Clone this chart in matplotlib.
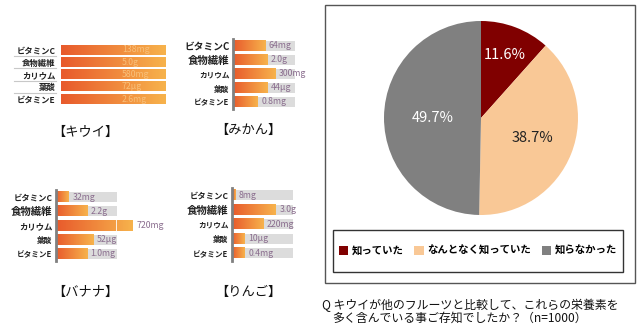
import numpy as np
import matplotlib
matplotlib.use("Agg")
import matplotlib.pyplot as plt
from matplotlib.colors import LinearSegmentedColormap
from matplotlib.patches import Rectangle

plt.rcParams['font.family'] = ['Noto Sans CJK JP', 'DejaVu Sans']

# ---- data ----
nutrients = ['ビタミンC', '食物繊維', 'カリウム', '葉酸', 'ビタミンE']

kiwi_text = ['138mg', '5.0g', '580mg', '72μg', '2.6mg']
kiwi_len = [1.0, 1.0, 1.0, 1.0, 1.0]

mikan_text = ['64mg', '2.0g', '300mg', '44μg', '0.8mg']
mikan_len = [0.52, 0.55, 0.68, 0.56, 0.40]

banana_text = ['32mg', '2.2g', '720mg', '52μg', '1.0mg']
banana_len = [0.21, 0.51, 1.26, 0.61, 0.51]

ringo_text = ['8mg', '3.0g', '220mg', '10μg', '0.4mg']
ringo_len = [0.05, 0.72, 0.51, 0.21, 0.21]

pie_labels = ['知っていた', 'なんとなく知っていた', '知らなかった']
pie_values = [11.6, 38.7, 49.7]
pie_colors = ['#800000', '#f9c896', '#808080']
pie_text_colors = ['white', '#222222', 'white']

caption1 = 'Q キウイが他のフルーツと比較して、これらの栄養素を'
caption2 = '多く含んでいる事ご存知でしたか？（n=1000）'

W, H = 640, 328
fig = plt.figure(figsize=(6.4, 3.28), dpi=100)


def box(x0, y0, x1, y1):
    return [x0 / W, 1 - y1 / H, (x1 - x0) / W, (y1 - y0) / H]


grad = LinearSegmentedColormap.from_list('og', ['#e85a2c', '#f7b34c'])
gimg = np.linspace(0, 1, 256).reshape(1, -1)


def nutrient_panel(rect, lengths, texts, title, title_xy, sizes, kiwi=False):
    ax = fig.add_axes(rect)
    h = 0.75 if kiwi else 0.72
    y = np.arange(len(nutrients))
    if not kiwi:
        ax.barh(y, [1.0] * len(y), height=h, color='#dcdcdc', zorder=1)
    bars = ax.barh(y, lengths, height=h, color='none', zorder=2)
    for b in bars:
        x0, y0, w, hh = b.get_x(), b.get_y(), b.get_width(), b.get_height()
        im = ax.imshow(gimg, cmap=grad, aspect='auto', zorder=2,
                       extent=[x0, x0 + w, y0 + hh, y0])
        im.set_clip_on(False)
    for i, ln in enumerate(lengths):
        if ln > 1:
            ax.plot([1, 1], [i - h / 2, i + h / 2], color='white', lw=1.2, zorder=3)
    for i, t in enumerate(texts):
        if kiwi:
            ax.text(0.58, i, t, color='#f8c07a', fontsize=6.3, va='center', zorder=4)
        else:
            ax.annotate(t, (lengths[i], i), xytext=(2.5, 0), textcoords='offset points',
                        color='#8a6d8e', fontsize=6.3, va='center', zorder=4,
                        annotation_clip=False)
    ax.set_xlim(0, 1)
    ax.set_ylim(len(y) - 0.5, -0.5)
    ax.set_yticks(y)
    ax.set_yticklabels(nutrients, fontweight='bold', color='#222222')
    for lab, s in zip(ax.get_yticklabels(), sizes):
        lab.set_fontsize(s)
    ax.set_xticks([])
    ax.tick_params(axis='y', length=0, pad=4 if kiwi else 2.5)
    for s in ['top', 'right', 'bottom', 'left']:
        ax.spines[s].set_visible(False)
    if kiwi:
        tr = ax.get_yaxis_transform()
        for i in range(len(y) - 1):
            ax.plot([-0.45, -0.05], [i + 0.5, i + 0.5], color='#c8c8c8', lw=0.8,
                    transform=tr, clip_on=False)
    else:
        ax.spines['left'].set_visible(True)
        ax.spines['left'].set_color('#808080')
        ax.spines['left'].set_linewidth(2)
    fig.text(title_xy[0] / W, 1 - title_xy[1] / H, title, fontsize=9.5,
             ha='center', va='center', color='#111111')
    return ax


nutrient_panel(box(61, 43.8, 166, 105.3), kiwi_len, kiwi_text, '【キウイ】', (85, 132),
               [6, 6, 6, 6, 6], kiwi=True)
nutrient_panel(box(233, 39, 295, 109), mikan_len, mikan_text, '【みかん】', (248, 130),
               [7, 7.5, 5.5, 5.5, 5.5])
nutrient_panel(box(56, 190, 117, 261), banana_len, banana_text, '【バナナ】', (85, 292),
               [6, 7.5, 6, 5.5, 5.5])
nutrient_panel(box(232, 188, 293, 260.5), ringo_len, ringo_text, '【りんご】', (248, 292),
               [6, 7.5, 5.5, 5.5, 5.5])

# ---- pie panel ----
fig.patches.append(Rectangle((325 / W, 1 - 283 / H), 310 / W, 278 / H,
                             transform=fig.transFigure, fill=False,
                             edgecolor='#555555', lw=1))
pax = fig.add_axes(box(384, 21, 578, 215))
wedges, _ = pax.pie(pie_values, colors=pie_colors, startangle=90, counterclock=False,
                    radius=1)
pax.set_xlim(-1, 1)
pax.set_ylim(-1, 1)
pax.set_aspect('equal')

dists = [0.70, 0.57, 0.50]
cum = 0
for v, d, c in zip(pie_values, dists, pie_text_colors):
    mid = np.deg2rad((cum + v / 2) / 100 * 360)
    cum += v
    pax.text(d * np.sin(mid), d * np.cos(mid), f'{v:.1f}%', color=c, fontsize=10.5,
             ha='center', va='center')

fig.patches.append(Rectangle((333 / W, 1 - 272 / H), 290 / W, 42 / H,
                             transform=fig.transFigure, fill=False,
                             edgecolor='#333333', lw=1))
fig.legend(wedges, pie_labels, ncol=3, loc='center',
           bbox_to_anchor=(478 / W, 1 - 251 / H), frameon=False,
           handlelength=0.9, handleheight=0.9, handletextpad=0.35,
           columnspacing=1.0, prop={'size': 7.5, 'weight': 'bold'})

fig.text(322 / W, 1 - 305 / H, caption1, fontsize=8.6, va='center', ha='left',
         color='#111111')
fig.text(332 / W, 1 - 318 / H, caption2, fontsize=8.6, va='center', ha='left',
         color='#111111')

fig.savefig('out.png', dpi=100, facecolor='white')
